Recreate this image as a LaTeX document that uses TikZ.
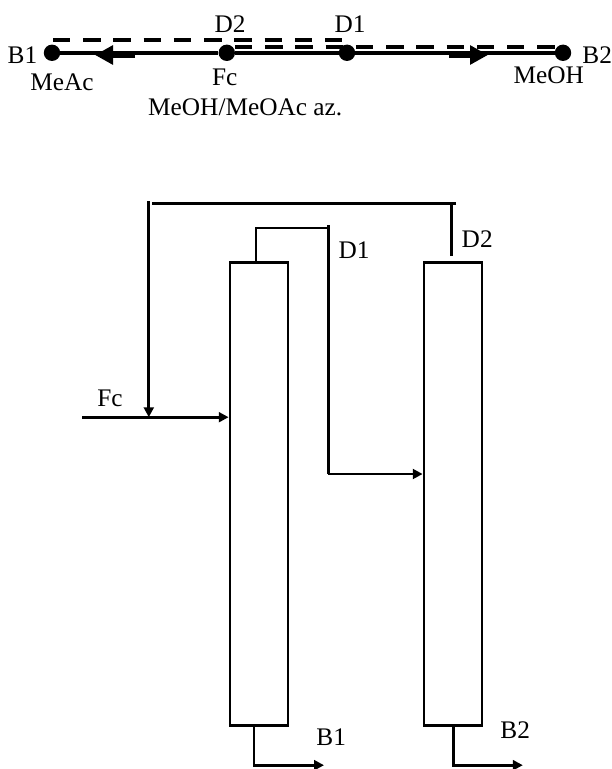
\documentclass[tikz,border=0pt]{standalone}
\usepackage{fontspec}
\setmainfont{Liberation Serif}
\usetikzlibrary{arrows.meta}

\begin{document}
\begin{tikzpicture}[
    >={Triangle[length=7pt, width=7pt]},
    colbox/.style={draw, rectangle, line width=2pt, minimum width=1.45cm, minimum height=11.575cm, inner sep=0pt},
    txt/.style={align=center, font=\fontsize{18}{20}\selectfont, inner sep=0pt},
    stagedot/.style={circle, fill=black, minimum size=0.41cm, inner sep=0pt},
    profile/.style={line width=2.8pt},
    tie/.style={line width=3.2pt, dash pattern=on 12.4pt off 9.1pt},
    dirarrow/.style={-{Triangle[length=0.45cm, width=0.46cm]}, line width=4pt},
    stream/.style={line width=2pt}
]

% fixes the page to the size of the reference
\useasboundingbox (0,0) rectangle (15.3,-19.225);

% Tie lines
\coordinate (tie1_l) at (1.325,-1.0);
\coordinate (tie1_r) at (8.6,-1.0);
\coordinate (tie2_l) at (5.875,-1.175);
\coordinate (tie2_r) at (13.875,-1.175);
\draw[tie] (tie1_l) -- (tie1_r);
\draw[tie] (tie2_l) -- (tie2_r);

% Composition profile
\node[stagedot] (dot_B1) at (1.3,-1.32) {};
\node[stagedot] (dot_Fc) at (5.67,-1.32) {};
\node[stagedot] (dot_D1) at (8.675,-1.32) {};
\node[stagedot] (dot_B2) at (14.075,-1.32) {};

\draw[profile] (dot_B1) -- (dot_Fc);
\draw[profile] (dot_Fc) -- (dot_D1);
\draw[profile] (dot_D1) -- (dot_B2);

% Direction arrows
\coordinate (left_s) at (3.375,-1.375);
\coordinate (left_e) at (2.375,-1.375);
\coordinate (right_s) at (11.225,-1.375);
\coordinate (right_e) at (12.2,-1.375);
\draw[dirarrow] (left_s) -- (left_e);
\draw[dirarrow] (right_s) -- (right_e);

% Profile labels
\node[txt] (lab_B1) at (0.56,-1.38) {B1};
\node[txt] (lab_B2) at (14.93,-1.38) {B2};
\node[txt] (lab_D2) at (5.75,-0.6) {D2};
\node[txt] (lab_D1) at (8.75,-0.6) {D1};
\node[txt] (lab_MeAc) at (1.55,-2.05) {MeAc};
\node[txt] (lab_MeOH) at (13.72,-1.88) {MeOH};
\node[txt] (lab_Fc) at (5.62,-1.93) {Fc};
\node[txt] (lab_az) at (6.13,-2.68) {MeOH/MeOAc az.};

% Columns
\node[colbox] (col1) at (6.475,-12.34) {};
\node[colbox] (col2) at (11.325,-12.34) {};

% Feed
\node[txt] (lab_feed) at (2.75,-9.95) {Fc};
\coordinate (feed_in) at (2.05,-10.43);
\draw[stream, ->] (feed_in) -- (feed_in -| col1.west);

% Distillate of column 1
\coordinate (d1_top) at (8.2,-5.7);
\coordinate (d1_turn) at (6.4,-5.7);
\coordinate (d1_low) at (8.2,-11.85);
\draw[stream] (d1_turn |- col1.north) -- (d1_turn) -- (d1_top);
\draw[stream] (8.22,-5.63) -- (8.22,-11.85);
\draw[stream, ->] (d1_low) -- (d1_low -| col2.west);
\node[txt] (lab_D1b) at (8.85,-6.25) {D1};

% Distillate of column 2, recycled to the feed
\coordinate (d2_end) at (11.28,-6.4);
\coordinate (d2_top) at (11.28,-5.08);
\coordinate (rec_start) at (3.8,-5.08);
\coordinate (rec_down) at (3.72,-5.03);
\draw[stream] (d2_end) -- (d2_top);
\draw[stream] (11.4,-5.08) -- (rec_start);
\draw[stream, ->] (rec_down) -- (rec_down |- feed_in);
\node[txt] (lab_D2b) at (11.93,-5.98) {D2};

% Bottoms
\coordinate (b1_turn) at (6.35,-19.13);
\coordinate (b2_turn) at (11.33,-19.13);
\draw[stream, ->] (b1_turn |- col1.south) -- (b1_turn) -- (8.1,-19.13);
\draw[stream, ->] (b2_turn |- col2.south) -- (b2_turn) -- (13.07,-19.13);
\node[txt] (lab_B1b) at (8.28,-18.43) {B1};
\node[txt] (lab_B2b) at (12.88,-18.25) {B2};

\end{tikzpicture}
\end{document}
